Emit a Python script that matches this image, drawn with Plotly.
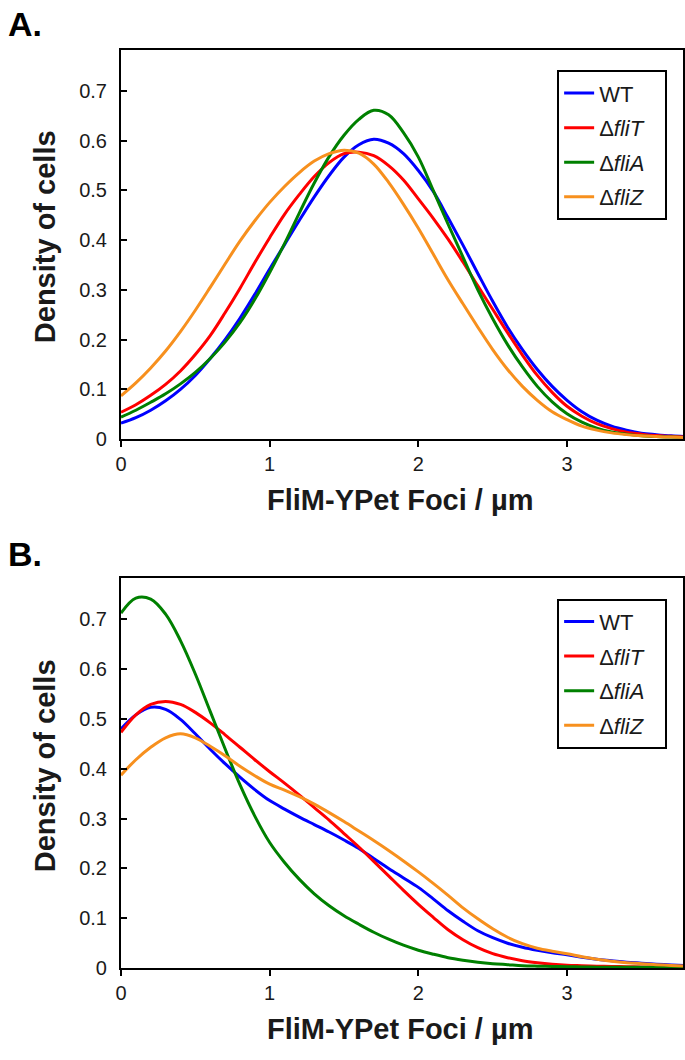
import plotly.graph_objects as go

# ---------------- data ----------------
series_names = ["WT", "Δ<i>fliT</i>", "Δ<i>fliA</i>", "Δ<i>fliZ</i>"]
series_colors = ["#0000ff", "#ff0000", "#008000", "#f7901e"]

x_grid = [0.0, 0.1, 0.2, 0.3, 0.4, 0.5, 0.6, 0.7, 0.8, 0.9,
          1.0, 1.1, 1.2, 1.3, 1.4, 1.5, 1.6, 1.7, 1.8, 1.9,
          2.0, 2.1, 2.2, 2.3, 2.4, 2.5, 2.6, 2.7, 2.8, 2.9,
          3.0, 3.1, 3.2, 3.3, 3.4, 3.5, 3.6, 3.7, 3.8]

# Panel A
wt_a   = [0.032, 0.043, 0.058, 0.077, 0.100, 0.128, 0.162, 0.200, 0.243, 0.291,
          0.342, 0.391, 0.440, 0.487, 0.530, 0.567, 0.592, 0.603, 0.595, 0.574,
          0.540, 0.498, 0.445, 0.390, 0.333, 0.277, 0.225, 0.180, 0.140, 0.106,
          0.078, 0.055, 0.038, 0.026, 0.018, 0.012, 0.009, 0.0065, 0.005]
flit_a = [0.054, 0.069, 0.088, 0.110, 0.137, 0.170, 0.208, 0.254, 0.303, 0.355,
          0.405, 0.452, 0.492, 0.528, 0.556, 0.574, 0.577, 0.570, 0.550, 0.521,
          0.483, 0.444, 0.402, 0.356, 0.308, 0.261, 0.214, 0.169, 0.128, 0.094,
          0.066, 0.046, 0.031, 0.021, 0.014, 0.010, 0.007, 0.0055, 0.004]
flia_a = [0.044, 0.058, 0.074, 0.091, 0.111, 0.134, 0.162, 0.195, 0.234, 0.281,
          0.335, 0.393, 0.455, 0.515, 0.568, 0.611, 0.643, 0.661, 0.652, 0.616,
          0.567, 0.500, 0.432, 0.366, 0.300, 0.242, 0.190, 0.145, 0.106, 0.075,
          0.051, 0.034, 0.022, 0.0145, 0.010, 0.0068, 0.005, 0.004, 0.003]
fliz_a = [0.087, 0.113, 0.143, 0.177, 0.216, 0.259, 0.305, 0.352, 0.398, 0.439,
          0.476, 0.508, 0.536, 0.559, 0.574, 0.581, 0.575, 0.553, 0.516, 0.472,
          0.424, 0.372, 0.320, 0.272, 0.225, 0.180, 0.140, 0.106, 0.078, 0.055,
          0.039, 0.026, 0.018, 0.0125, 0.009, 0.0065, 0.005, 0.004, 0.003]

# Panel B
wt_b   = [0.480, 0.508, 0.523, 0.519, 0.499, 0.470, 0.439, 0.410, 0.383, 0.358,
          0.336, 0.319, 0.303, 0.288, 0.273, 0.257, 0.240, 0.220, 0.200, 0.181,
          0.162, 0.139, 0.115, 0.094, 0.075, 0.061, 0.050, 0.042, 0.036, 0.031,
          0.027, 0.022, 0.018, 0.015, 0.012, 0.010, 0.008, 0.0065, 0.005]
flit_b = [0.473, 0.508, 0.529, 0.535, 0.529, 0.513, 0.492, 0.468, 0.443, 0.418,
          0.394, 0.371, 0.347, 0.322, 0.297, 0.270, 0.243, 0.214, 0.185, 0.156,
          0.128, 0.102, 0.077, 0.057, 0.041, 0.029, 0.021, 0.015, 0.011, 0.008,
          0.006, 0.005, 0.004, 0.0035, 0.003, 0.0025, 0.002, 0.002, 0.002]
flia_b = [0.712, 0.742, 0.740, 0.710, 0.657, 0.590, 0.515, 0.440, 0.368, 0.305,
          0.252, 0.212, 0.178, 0.149, 0.125, 0.105, 0.088, 0.072, 0.058, 0.046,
          0.036, 0.028, 0.021, 0.016, 0.012, 0.009, 0.007, 0.005, 0.004, 0.0033,
          0.003, 0.0025, 0.002, 0.002, 0.002, 0.002, 0.002, 0.002, 0.002]
fliz_b = [0.387, 0.418, 0.443, 0.462, 0.470, 0.462, 0.445, 0.426, 0.405, 0.386,
          0.369, 0.357, 0.344, 0.329, 0.312, 0.294, 0.275, 0.256, 0.236, 0.215,
          0.193, 0.170, 0.146, 0.121, 0.099, 0.079, 0.062, 0.049, 0.040, 0.034,
          0.029, 0.023, 0.018, 0.014, 0.011, 0.009, 0.007, 0.0055, 0.004]

x_ticks = [0, 1, 2, 3]
y_ticks = [0, 0.1, 0.2, 0.3, 0.4, 0.5, 0.6, 0.7]
y_tick_text = ["0", "0.1", "0.2", "0.3", "0.4", "0.5", "0.6", "0.7"]
x_title = "FliM-YPet Foci / µm"
y_title = "Density of cells"
panel_labels = ["A.", "B."]

# ---------------- figure ----------------
W, H = 685, 1060
FONT = "Liberation Sans, Arial, Helvetica, sans-serif"
TICKFONT = dict(family=FONT, size=20, color="#1a1a1a")
LEGEND_PAD = "\u2002\u2009"  # invisible trailing space to widen legend box

fig = go.Figure()


def px_x(p):
    return p / W


def px_y(p):
    return 1 - p / H


panels = [
    dict(ys=[wt_a, flit_a, flia_a, fliz_a], top=50.7, bottom=443.7,
         xa="x", ya="y", legend="legend", leg_top=71.0),
    dict(ys=[wt_b, flit_b, flia_b, fliz_b], top=584.3, bottom=978.3,
         xa="x2", ya="y2", legend="legend2", leg_top=605.0),
]

for pi, p in enumerate(panels):
    for k, (name, col, ys) in enumerate(zip(series_names, series_colors, p["ys"])):
        fig.add_trace(go.Scatter(
            x=x_grid, y=ys, mode="lines", name=name + LEGEND_PAD,
            line=dict(color=col, width=3, shape="spline", smoothing=1.0),
            xaxis=p["xa"], yaxis=p["ya"], legend=p["legend"],
            legendgroup="p%d_%d" % (pi, k),
        ))

left, right = 116, 683
axis_common = dict(
    showline=True, linecolor="black", linewidth=2, mirror=True,
    showgrid=False, zeroline=False, tickfont=TICKFONT,
)

layout = dict(
    width=W, height=H,
    margin=dict(l=0, r=0, t=0, b=0, pad=0),
    paper_bgcolor="white", plot_bgcolor="white",
    showlegend=True,
)

for i, p in enumerate(panels):
    suffix = "" if i == 0 else "2"
    layout["xaxis" + suffix] = dict(
        axis_common,
        domain=[px_x(left), px_x(right)],
        anchor="y" + suffix,
        range=[0, 3.78],
        tickvals=x_ticks, ticks="outside", ticklen=6, tickwidth=2, tickcolor="black",
    )
    layout["yaxis" + suffix] = dict(
        axis_common,
        domain=[px_y(p["bottom"]), px_y(p["top"])],
        anchor="x" + suffix,
        range=[0, 0.782],
        tickvals=y_ticks, ticktext=y_tick_text,
        ticks="inside", ticklen=6, tickwidth=2, tickcolor="black",
        ticklabelstandoff=8,
    )
    layout["legend" + suffix] = dict(
        x=px_x(556), y=px_y(p["leg_top"]), xanchor="left", yanchor="top",
        bgcolor="white", bordercolor="black", borderwidth=2,
        font=dict(family=FONT, size=22, color="#1a1a1a"),
        tracegroupgap=3, itemwidth=30,
    )

fig.update_layout(**layout)

annotations = []
for i, p in enumerate(panels):
    off = 0 if i == 0 else 534.6
    annotations.append(dict(
        text="<b>%s</b>" % panel_labels[i], x=px_x(0), y=px_y(3 + (0 if i == 0 else 536)),
        xref="paper", yref="paper", xanchor="left", yanchor="top", showarrow=False,
        font=dict(family=FONT, size=34, color="black"),
    ))
    annotations.append(dict(
        text="<b>%s</b>" % y_title, x=px_x(39), y=px_y(239 + off),
        xref="paper", yref="paper", xanchor="center", yanchor="middle", showarrow=False,
        textangle=-90, font=dict(family=FONT, size=29, color="#1a1a1a"),
    ))
    annotations.append(dict(
        text="<b>%s</b>" % x_title, x=px_x(397), y=px_y(505 + off),
        xref="paper", yref="paper", xanchor="center", yanchor="middle", showarrow=False,
        font=dict(family=FONT, size=29, color="#1a1a1a"),
    ))

fig.update_layout(annotations=annotations)
fig.write_html(
    "out.html",
    config={"displayModeBar": False},
    post_script="document.body.style.margin='0';document.body.style.overflow='hidden';",
)
